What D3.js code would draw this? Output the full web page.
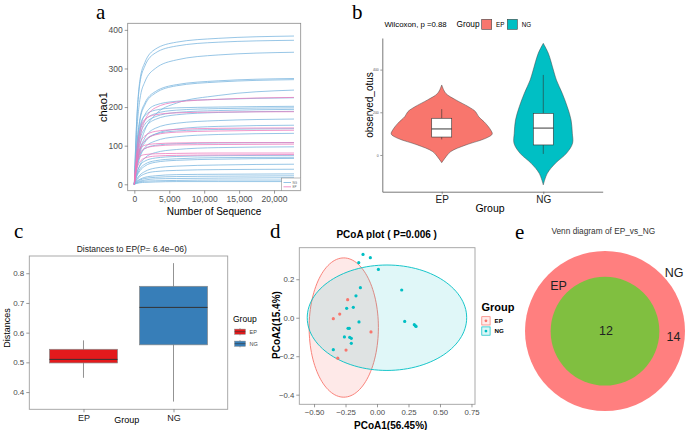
<!DOCTYPE html>
<html><head><meta charset="utf-8">
<script src="https://cdn.jsdelivr.net/npm/d3@7"></script>
<style>body{margin:0;background:#fff}</style>
</head><body>
<svg id="fig" width="685" height="430" xmlns="http://www.w3.org/2000/svg"></svg>
<script>
// ---------------- DATA ----------------
// (a) rarefaction curves: chao1 at each sequencing depth
const depths = [0, 300, 800, 1500, 3000, 6000, 12000, 22860];
const ngCurves = [
  [0,150,270,315,350,368,378,384],
  [0,145,262,306,340,358,368,373],
  [0,120,220,265,300,322,335,342],
  [0,90,170,210,240,258,268,274],
  [0,85,165,205,236,255,265,271],
  [0,50,100,140,180,210,230,244],
  [0,70,140,180,205,215,220,224],
  [0,80,150,178,192,198,200,202],
  [0,70,135,165,183,192,196,198],
  [0,65,125,155,175,186,191,194],
  [0,60,115,145,168,180,186,189],
  [0,45,90,120,145,158,165,169],
  [0,40,82,108,130,143,150,153],
  [0,45,88,112,130,138,142,144],
  [0,35,70,95,112,123,129,132],
  [0,40,75,92,101,105,107,108],
  [0,25,50,68,82,90,95,97],
  [0,25,48,60,68,72,74,75],
  [0,20,40,52,61,66,69,70],
  [0,18,35,47,57,62,65,67],
  [0,12,24,33,42,47,50,52],
  [0,10,20,27,33,36,38,39],
  [0,7,13,18,22,25,26,27],
  [0,6,11,15,18,20,21,22],
  [0,4,8,11,14,15,16,17],
  [0,3,6,8,9,10,11,11],
  [0,2,4,5,6,7,7,7]
];
const epCurves = [
  [0,60,120,165,198,213,220,225],
  [0,75,140,168,180,185,187,188],
  [0,55,105,125,137,142,145,146],
  [0,45,90,113,128,135,138,140],
  [0,60,92,101,105,107,108,108],
  [0,45,80,93,99,102,103,104],
  [0,55,72,77,79,80,81,81],
  [0,35,58,68,73,75,76,77]
];
const chaoTicks = [0, 100, 200, 300, 400];
const seqTicks = [0, 5000, 10000, 15000, 20000];

// (b) violin of observed_otus
const groups = ["EP", "NG"];
const epViolinValues  = [-36,-16,16,47,78,98,117,148,180,203,226,258,289,328];
const epViolinDensity = [0,0.06,0.18,0.48,0.87,1.0,0.97,0.87,0.73,0.67,0.53,0.28,0.08,0];
const ngViolinValues  = [-140,-86,-39,8,55,102,164,226,289,351,398,476,523];
const ngViolinDensity = [0,0.08,0.24,0.46,0.58,0.575,0.55,0.475,0.375,0.26,0.2,0.1,0];
const otuBoxEP = [73, 84, 122, 172, 215];   // min, q1, median, q3, max
const otuBoxNG = [5, 47, 126, 195, 375];
const otuTicks = [0, 200, 400];

// (c) distances to EP
const distBoxEP = [0.448, 0.498, 0.510, 0.544, 0.574];
const distBoxNG = [0.368, 0.559, 0.685, 0.756, 0.834];
const distTicks = [0.4, 0.5, 0.6, 0.7, 0.8];

// (d) PCoA
const pcoaEP = [[-0.233,0.094],[-0.296,0.019],[-0.347,-0.005],[-0.048,-0.074],[-0.246,-0.168],[-0.312,-0.210]];
const pcoaNG = [[-0.111,0.329],[-0.053,0.312],[-0.145,0.286],[0.011,0.251],[-0.132,0.156],[-0.167,0.114],
  [-0.241,0.049],[-0.188,0.054],[0.196,0.144],[-0.143,-0.022],[0.220,-0.019],[0.296,-0.036],[0.305,-0.042],
  [0.310,-0.045],[-0.230,-0.055],[-0.220,-0.055],[-0.259,-0.100],[-0.217,-0.102],[-0.204,-0.107],
  [-0.204,-0.133],[-0.347,-0.166]];
const ellipseEP = [-0.264, -0.051, 0.275, 0.362]; // cx, cy, rx, ry
const ellipseNG = [0.079, 0.0, 0.633, 0.274];
const pcoaXTicks = [-0.5, -0.25, 0, 0.25, 0.5, 0.75];
const pcoaYTicks = [-0.4, -0.2, 0, 0.2];

// (e) Venn
const vennShared = 12;
const vennNGOnly = 14;

// ---------------- DRAW ----------------
const SANS = "'Liberation Sans', Arial, Helvetica, sans-serif";
const SERIF = "'Liberation Serif', 'Times New Roman', serif";
const svg = d3.select("#fig");
const EPc = "#F8766D", NGc = "#00BFC4";

function txt(g, x, y, s, size, opt = {}) {
  const t = g.append("text").attr("x", x).attr("y", y).text(s)
    .attr("font-size", size).attr("font-family", opt.family || SANS)
    .attr("fill", opt.fill || "#000").attr("text-anchor", opt.anchor || "start");
  if (opt.weight) t.attr("font-weight", opt.weight);
  if (opt.rotate) t.attr("transform", `rotate(-90,${x},${y})`);
  return t;
}
function styleAxis(g, size, color, keepDomain) {
  g.attr("font-family", SANS).attr("font-size", size);
  if (!keepDomain) g.select(".domain").remove();
  g.selectAll(".tick line").attr("stroke", "#555").attr("stroke-width", 0.6);
  g.selectAll(".tick text").attr("fill", color);
}

// panel labels
[["a",96,18.5],["b",352,19],["c",14,238],["d",270,238],["e",515,238.5]].forEach(([s,x,y]) =>
  txt(svg, x, y, s, 21, {family: SERIF}));

// ===== (a) =====
{
  const g = svg.append("g");
  const x = d3.scaleLinear().domain([-950, 23820]).range([127.7, 300.7]);
  const y = d3.scaleLinear().domain([-16.6, 417]).range([190.7, 23.3]);
  const line = d3.line().x((d, i) => x(depths[i])).y(d => y(d)).curve(d3.curveMonotoneX);
  g.selectAll(".ng").data(ngCurves).join("path").attr("d", line)
    .attr("fill", "none").attr("stroke", "#78B4DE").attr("stroke-width", 0.9).attr("stroke-opacity", 0.85);
  g.selectAll(".ep").data(epCurves).join("path").attr("d", line)
    .attr("fill", "none").attr("stroke", "#EC78BC").attr("stroke-width", 0.9).attr("stroke-opacity", 0.85);
  g.append("rect").attr("x", 127.7).attr("y", 23.3).attr("width", 173).attr("height", 167.4)
    .attr("fill", "none").attr("stroke", "#8a8a8a").attr("stroke-width", 0.8);
  const ax = g.append("g").attr("transform", "translate(0,190.7)")
    .call(d3.axisBottom(x).tickValues(seqTicks).tickSize(3).tickPadding(2));
  styleAxis(ax, 8.5, "#4d4d4d");
  const ay = g.append("g").attr("transform", "translate(127.7,0)")
    .call(d3.axisLeft(y).tickValues(chaoTicks).tickSize(3).tickPadding(2));
  styleAxis(ay, 8.5, "#4d4d4d");
  txt(g, 103, 107, "chao1", 11, {anchor: "middle", rotate: true}).attr("dy", "0.35em");
  txt(g, 214, 214.5, "Number of Sequence", 10, {anchor: "middle"});
  // legend
  g.append("rect").attr("x", 281.7).attr("y", 178).attr("width", 19).attr("height", 12.7)
    .attr("fill", "#fff").attr("stroke", "#777").attr("stroke-width", 0.5);
  [["NG", "#78B4DE", 182.5], ["EP", "#EC78BC", 186.8]].forEach(([s, c, yy]) => {
    g.append("line").attr("x1", 283.5).attr("x2", 291).attr("y1", yy).attr("y2", yy).attr("stroke", c).attr("stroke-width", 0.8);
    txt(g, 292.5, yy + 1, s, 3, {fill: "#666"});
  });
}

// ===== (b) =====
{
  const g = svg.append("g");
  const x = d3.scalePoint().domain(groups).range([382.3, 602.7]).padding(0.585);
  const y = d3.scaleLinear().domain([-172, 548]).range([191.7, 38]);
  const w = d3.scaleLinear().domain([0, 1]).range([0, 50.5]);
  const sets = [
    ["EP", epViolinValues, epViolinDensity, EPc, otuBoxEP],
    ["NG", ngViolinValues, ngViolinDensity, NGc, otuBoxNG]
  ];
  sets.forEach(([grp, vals, dens, col, box]) => {
    const cx = x(grp);
    const pts = vals.map((v, i) => [v, dens[i]]);
    const area = d3.area().y(d => y(d[0])).x0(d => cx - w(d[1])).x1(d => cx + w(d[1]))
      .curve(d3.curveCatmullRom.alpha(0.5));
    g.append("path").attr("d", area(pts)).attr("fill", col).attr("stroke", "#444").attr("stroke-width", 0.5);
    const bw = 20;
    g.append("line").attr("x1", cx).attr("x2", cx).attr("y1", y(box[0])).attr("y2", y(box[4]))
      .attr("stroke", "#333").attr("stroke-width", 0.6);
    g.append("rect").attr("x", cx - bw / 2).attr("width", bw).attr("y", y(box[3])).attr("height", y(box[1]) - y(box[3]))
      .attr("fill", "#fff").attr("stroke", "#333").attr("stroke-width", 0.6);
    g.append("line").attr("x1", cx - bw / 2).attr("x2", cx + bw / 2).attr("y1", y(box[2])).attr("y2", y(box[2]))
      .attr("stroke", "#222").attr("stroke-width", 0.9);
  });
  const ay = g.append("g").attr("transform", "translate(382.3,0)")
    .call(d3.axisLeft(y).tickValues(otuTicks).tickSize(2).tickPadding(1.5).tickSizeOuter(0));
  styleAxis(ay, 3.5, "#555", true);
  ay.select(".domain").attr("stroke", "#555").attr("stroke-width", 0.8);
  const ax = g.append("g").attr("transform", "translate(0,191.7)")
    .call(d3.axisBottom(x).tickSize(2.5).tickPadding(2).tickSizeOuter(0));
  styleAxis(ax, 10, "#222", true);
  ax.select(".domain").attr("stroke", "#555").attr("stroke-width", 0.8);
  txt(g, 369.5, 105, "observed_otus", 10, {anchor: "middle", rotate: true}).attr("dy", "0.35em");
  txt(g, 490, 212, "Group", 10.5, {anchor: "middle"});
  txt(g, 384.5, 26.8, "Wilcoxon, p =0.88", 7.8);
  txt(g, 456.5, 27, "Group", 8.3);
  [["EP", EPc, 481.7, 496], ["NG", NGc, 507.3, 521.7]].forEach(([s, c, bx, tx]) => {
    g.append("rect").attr("x", bx).attr("y", 19.3).attr("width", 10).attr("height", 10)
      .attr("fill", c).attr("stroke", "#444").attr("stroke-width", 0.6);
    txt(g, tx, 26.8, s, 6.3);
  });
}

// ===== (c) =====
{
  const g = svg.append("g");
  const x = d3.scalePoint().domain(groups).range([29.3, 227.7]).padding(0.602);
  const y = d3.scaleLinear().domain([0.342, 0.858]).range([409.3, 256]);
  const cols = {EP: "#E41A1C", NG: "#377EB8"};
  [["EP", distBoxEP], ["NG", distBoxNG]].forEach(([grp, box]) => {
    const cx = x(grp), bw = 68;
    g.append("line").attr("x1", cx).attr("x2", cx).attr("y1", y(box[0])).attr("y2", y(box[4]))
      .attr("stroke", "#777").attr("stroke-width", 0.8);
    g.append("rect").attr("x", cx - bw / 2).attr("width", bw).attr("y", y(box[3])).attr("height", y(box[1]) - y(box[3]))
      .attr("fill", cols[grp]).attr("stroke", "#888").attr("stroke-width", 0.7);
    g.append("line").attr("x1", cx - bw / 2).attr("x2", cx + bw / 2).attr("y1", y(box[2])).attr("y2", y(box[2]))
      .attr("stroke", "#333").attr("stroke-width", 1);
  });
  g.append("rect").attr("x", 29.3).attr("y", 256).attr("width", 198.4).attr("height", 153.3)
    .attr("fill", "none").attr("stroke", "#a0a0a0").attr("stroke-width", 0.9);
  const ay = g.append("g").attr("transform", "translate(29.3,0)")
    .call(d3.axisLeft(y).tickValues(distTicks).tickFormat(d3.format(".1f")).tickSize(3).tickPadding(2));
  styleAxis(ay, 8, "#4d4d4d");
  const ax = g.append("g").attr("transform", "translate(0,409.3)")
    .call(d3.axisBottom(x).tickSize(3).tickPadding(2));
  styleAxis(ax, 9, "#222");
  txt(g, 7, 328, "Distances", 9, {anchor: "middle", rotate: true}).attr("dy", "0.35em");
  txt(g, 126.7, 422.5, "Group", 9, {anchor: "middle"});
  txt(g, 131.7, 252.2, "Distances to EP(P= 6.4e\u221206)", 8.5, {anchor: "middle", fill: "#222"});
  txt(g, 233, 322.2, "Group", 8.5);
  [["EP", cols.EP, 331.7], ["NG", cols.NG, 343.7]].forEach(([s, c, yy]) => {
    g.append("line").attr("x1", 240).attr("x2", 240).attr("y1", yy - 3.7).attr("y2", yy + 3.7).attr("stroke", "#777").attr("stroke-width", 0.6);
    g.append("rect").attr("x", 234.6).attr("y", yy - 2.6).attr("width", 10.8).attr("height", 5.2)
      .attr("fill", c).attr("stroke", "#888").attr("stroke-width", 0.5);
    g.append("line").attr("x1", 234.6).attr("x2", 245.4).attr("y1", yy).attr("y2", yy).attr("stroke", "#333").attr("stroke-width", 0.6);
    txt(g, 249.5, yy + 2, s, 5.5, {fill: "#444"});
  });
}

// ===== (d) =====
{
  const g = svg.append("g");
  const x = d3.scaleLinear().domain([-0.617, 0.778]).range([299.3, 475]);
  const y = d3.scaleLinear().domain([-0.45, 0.364]).range([404.3, 247.7]);
  const ell = e => d3.line().curve(d3.curveLinearClosed)(
    d3.range(0, 360, 3).map(a => [x(e[0] + e[2] * Math.cos(a * Math.PI / 180)), y(e[1] + e[3] * Math.sin(a * Math.PI / 180))]));
  g.append("path").attr("d", ell(ellipseEP)).attr("fill", EPc).attr("fill-opacity", 0.16)
    .attr("stroke", EPc).attr("stroke-width", 0.9);
  g.append("path").attr("d", ell(ellipseNG)).attr("fill", NGc).attr("fill-opacity", 0.12)
    .attr("stroke", NGc).attr("stroke-width", 0.9);
  g.selectAll(".pe").data(pcoaEP).join("circle").attr("cx", d => x(d[0])).attr("cy", d => y(d[1])).attr("r", 1.6).attr("fill", EPc);
  g.selectAll(".pn").data(pcoaNG).join("circle").attr("cx", d => x(d[0])).attr("cy", d => y(d[1])).attr("r", 1.6).attr("fill", NGc);
  g.append("rect").attr("x", 299.3).attr("y", 247.7).attr("width", 175.7).attr("height", 156.6)
    .attr("fill", "none").attr("stroke", "#a0a0a0").attr("stroke-width", 0.9);
  const ax = g.append("g").attr("transform", "translate(0,404.3)")
    .call(d3.axisBottom(x).tickValues(pcoaXTicks).tickFormat(d3.format(".2f")).tickSize(3).tickPadding(2));
  styleAxis(ax, 7.8, "#4d4d4d");
  const ay = g.append("g").attr("transform", "translate(299.3,0)")
    .call(d3.axisLeft(y).tickValues(pcoaYTicks).tickFormat(d3.format(".1f")).tickSize(3).tickPadding(2));
  styleAxis(ay, 7.8, "#4d4d4d");
  txt(g, 386.7, 237.8, "PCoA plot ( P=0.006 )", 10, {anchor: "middle", weight: "bold"});
  txt(g, 390.7, 428.5, "PCoA1(56.45%)", 10, {anchor: "middle", weight: "bold"});
  txt(g, 276.5, 325, "PCoA2(15.4%)", 10, {anchor: "middle", weight: "bold", rotate: true}).attr("dy", "0.35em");
  txt(g, 481.5, 310.8, "Group", 11, {weight: "bold"});
  [["EP", EPc, 316.7], ["NG", NGc, 326.9]].forEach(([s, c, yy]) => {
    g.append("rect").attr("x", 481.8).attr("y", yy).attr("width", 8.3).attr("height", 8.3)
      .attr("fill", c).attr("fill-opacity", 0.14).attr("stroke", c).attr("stroke-width", 0.7);
    g.append("circle").attr("cx", 485.95).attr("cy", yy + 4.15).attr("r", 1.4).attr("fill", c);
    txt(g, 494.5, yy + 6.3, s, 6.2, {weight: "bold"});
  });
}

// ===== (e) =====
{
  const g = svg.append("g");
  const total = vennShared + vennNGOnly;
  const r = d3.scaleSqrt().domain([0, total]).range([0, 80]);
  g.append("circle").attr("cx", 605).attr("cy", 331).attr("r", r(total)).attr("fill", "#FF7F7F");
  g.append("circle").attr("cx", 605).attr("cy", 331.2).attr("r", r(vennShared)).attr("fill", "#80BF40");
  txt(g, 603.3, 233.5, "Venn diagram of EP_vs_NG", 8.3, {anchor: "middle", fill: "#333"});
  txt(g, 674, 276.6, "NG", 12.5, {anchor: "middle", fill: "#222"});
  txt(g, 558.5, 290.3, "EP", 12.5, {anchor: "middle", fill: "#222"});
  txt(g, 606, 335, String(vennShared), 12.5, {anchor: "middle", fill: "#222"});
  txt(g, 673.5, 341, String(vennNGOnly), 12.5, {anchor: "middle", fill: "#222"});
}
</script></body></html>
